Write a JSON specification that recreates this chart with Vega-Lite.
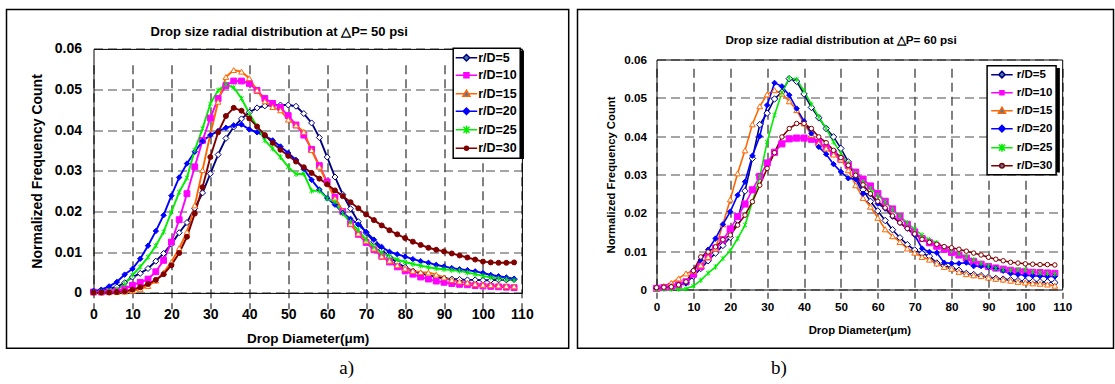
{
  "$schema": "https://vega.github.io/schema/vega-lite/v6.json",
  "background": "white",
  "padding": {"left": 5.5, "top": 8.5, "right": 0, "bottom": 0},
  "spacing": 7,
  "config": {
    "font": "Liberation Sans",
    "view": {"stroke": "black", "strokeWidth": 1.5},
    "axis": {
      "labelFont": "Liberation Sans", "labelFontWeight": "bold", "labelColor": "black",
      "titleFont": "Liberation Sans", "titleFontWeight": "bold", "titleColor": "black",
      "domain": true, "domainColor": "black", "domainWidth": 1,
      "ticks": false, "tickSize": 0,
      "gridDash": [9, 5], "gridWidth": 1.1, "gridOpacity": 1,
      "labelFlush": false, "labelOverlap": false
    },
    "legend": {"strokeWidth": 1.5},
    "title": {"font": "Liberation Sans", "fontWeight": "bold", "color": "black"}
  },
  "datasets": {
    "p50": [
      {"series":"r/D=5","d":0,"freq":0.0003},{"series":"r/D=5","d":2,"freq":0.0005},{"series":"r/D=5","d":4,"freq":0.001},{"series":"r/D=5","d":6,"freq":0.0015},{"series":"r/D=5","d":8,"freq":0.0025},{"series":"r/D=5","d":10,"freq":0.0039},{"series":"r/D=5","d":12,"freq":0.0048},{"series":"r/D=5","d":14,"freq":0.006},{"series":"r/D=5","d":16,"freq":0.0078},{"series":"r/D=5","d":18,"freq":0.0097},{"series":"r/D=5","d":20,"freq":0.012},{"series":"r/D=5","d":22,"freq":0.0148},{"series":"r/D=5","d":24,"freq":0.0173},{"series":"r/D=5","d":26,"freq":0.0208},{"series":"r/D=5","d":28,"freq":0.0246},{"series":"r/D=5","d":30,"freq":0.0293},{"series":"r/D=5","d":32,"freq":0.034},{"series":"r/D=5","d":34,"freq":0.038},{"series":"r/D=5","d":36,"freq":0.0408},{"series":"r/D=5","d":38,"freq":0.0428},{"series":"r/D=5","d":40,"freq":0.0444},{"series":"r/D=5","d":42,"freq":0.0455},{"series":"r/D=5","d":44,"freq":0.046},{"series":"r/D=5","d":46,"freq":0.0462},{"series":"r/D=5","d":48,"freq":0.0462},{"series":"r/D=5","d":50,"freq":0.0462},{"series":"r/D=5","d":52,"freq":0.0459},{"series":"r/D=5","d":54,"freq":0.0441},{"series":"r/D=5","d":56,"freq":0.0418},{"series":"r/D=5","d":58,"freq":0.0382},{"series":"r/D=5","d":60,"freq":0.0334},{"series":"r/D=5","d":62,"freq":0.0285},{"series":"r/D=5","d":64,"freq":0.0242},{"series":"r/D=5","d":66,"freq":0.0207},{"series":"r/D=5","d":68,"freq":0.0175},{"series":"r/D=5","d":70,"freq":0.0148},{"series":"r/D=5","d":72,"freq":0.0126},{"series":"r/D=5","d":74,"freq":0.0106},{"series":"r/D=5","d":76,"freq":0.0088},{"series":"r/D=5","d":78,"freq":0.0074},{"series":"r/D=5","d":80,"freq":0.0063},{"series":"r/D=5","d":82,"freq":0.0054},{"series":"r/D=5","d":84,"freq":0.0048},{"series":"r/D=5","d":86,"freq":0.0043},{"series":"r/D=5","d":88,"freq":0.0039},{"series":"r/D=5","d":90,"freq":0.0036},{"series":"r/D=5","d":92,"freq":0.0034},{"series":"r/D=5","d":94,"freq":0.0033},{"series":"r/D=5","d":96,"freq":0.0032},{"series":"r/D=5","d":98,"freq":0.0032},{"series":"r/D=5","d":100,"freq":0.0031},{"series":"r/D=5","d":102,"freq":0.0031},{"series":"r/D=5","d":104,"freq":0.0032},{"series":"r/D=5","d":106,"freq":0.0032},{"series":"r/D=5","d":108,"freq":0.0033},
      {"series":"r/D=10","d":0,"freq":0.0002},{"series":"r/D=10","d":2,"freq":0.0002},{"series":"r/D=10","d":4,"freq":0.0003},{"series":"r/D=10","d":6,"freq":0.0005},{"series":"r/D=10","d":8,"freq":0.001},{"series":"r/D=10","d":10,"freq":0.0019},{"series":"r/D=10","d":12,"freq":0.0026},{"series":"r/D=10","d":14,"freq":0.0034},{"series":"r/D=10","d":16,"freq":0.0052},{"series":"r/D=10","d":18,"freq":0.008},{"series":"r/D=10","d":20,"freq":0.0125},{"series":"r/D=10","d":22,"freq":0.018},{"series":"r/D=10","d":24,"freq":0.0244},{"series":"r/D=10","d":26,"freq":0.031},{"series":"r/D=10","d":28,"freq":0.0375},{"series":"r/D=10","d":30,"freq":0.043},{"series":"r/D=10","d":32,"freq":0.0478},{"series":"r/D=10","d":34,"freq":0.051},{"series":"r/D=10","d":36,"freq":0.0521},{"series":"r/D=10","d":38,"freq":0.0521},{"series":"r/D=10","d":40,"freq":0.0515},{"series":"r/D=10","d":42,"freq":0.0498},{"series":"r/D=10","d":44,"freq":0.0478},{"series":"r/D=10","d":46,"freq":0.0466},{"series":"r/D=10","d":48,"freq":0.0456},{"series":"r/D=10","d":50,"freq":0.0436},{"series":"r/D=10","d":52,"freq":0.0413},{"series":"r/D=10","d":54,"freq":0.0388},{"series":"r/D=10","d":56,"freq":0.0353},{"series":"r/D=10","d":58,"freq":0.0313},{"series":"r/D=10","d":60,"freq":0.0273},{"series":"r/D=10","d":62,"freq":0.0235},{"series":"r/D=10","d":64,"freq":0.02},{"series":"r/D=10","d":66,"freq":0.017},{"series":"r/D=10","d":68,"freq":0.0144},{"series":"r/D=10","d":70,"freq":0.0124},{"series":"r/D=10","d":72,"freq":0.0106},{"series":"r/D=10","d":74,"freq":0.009},{"series":"r/D=10","d":76,"freq":0.0076},{"series":"r/D=10","d":78,"freq":0.0064},{"series":"r/D=10","d":80,"freq":0.0054},{"series":"r/D=10","d":82,"freq":0.0046},{"series":"r/D=10","d":84,"freq":0.0039},{"series":"r/D=10","d":86,"freq":0.0034},{"series":"r/D=10","d":88,"freq":0.0029},{"series":"r/D=10","d":90,"freq":0.0026},{"series":"r/D=10","d":92,"freq":0.0023},{"series":"r/D=10","d":94,"freq":0.0021},{"series":"r/D=10","d":96,"freq":0.002},{"series":"r/D=10","d":98,"freq":0.0018},{"series":"r/D=10","d":100,"freq":0.0017},{"series":"r/D=10","d":102,"freq":0.0016},{"series":"r/D=10","d":104,"freq":0.0015},{"series":"r/D=10","d":106,"freq":0.0014},{"series":"r/D=10","d":108,"freq":0.0013},
      {"series":"r/D=15","d":0,"freq":0.0002},{"series":"r/D=15","d":2,"freq":0.0002},{"series":"r/D=15","d":4,"freq":0.0002},{"series":"r/D=15","d":6,"freq":0.0002},{"series":"r/D=15","d":8,"freq":0.0003},{"series":"r/D=15","d":10,"freq":0.0005},{"series":"r/D=15","d":12,"freq":0.0009},{"series":"r/D=15","d":14,"freq":0.0017},{"series":"r/D=15","d":16,"freq":0.003},{"series":"r/D=15","d":18,"freq":0.005},{"series":"r/D=15","d":20,"freq":0.0076},{"series":"r/D=15","d":22,"freq":0.011},{"series":"r/D=15","d":24,"freq":0.015},{"series":"r/D=15","d":26,"freq":0.0215},{"series":"r/D=15","d":28,"freq":0.0302},{"series":"r/D=15","d":30,"freq":0.039},{"series":"r/D=15","d":32,"freq":0.047},{"series":"r/D=15","d":34,"freq":0.0531},{"series":"r/D=15","d":36,"freq":0.0548},{"series":"r/D=15","d":38,"freq":0.0544},{"series":"r/D=15","d":40,"freq":0.0528},{"series":"r/D=15","d":42,"freq":0.0498},{"series":"r/D=15","d":44,"freq":0.0471},{"series":"r/D=15","d":46,"freq":0.0457},{"series":"r/D=15","d":48,"freq":0.0449},{"series":"r/D=15","d":50,"freq":0.0426},{"series":"r/D=15","d":52,"freq":0.0412},{"series":"r/D=15","d":54,"freq":0.0396},{"series":"r/D=15","d":56,"freq":0.0351},{"series":"r/D=15","d":58,"freq":0.031},{"series":"r/D=15","d":60,"freq":0.027},{"series":"r/D=15","d":62,"freq":0.0232},{"series":"r/D=15","d":64,"freq":0.0202},{"series":"r/D=15","d":66,"freq":0.017},{"series":"r/D=15","d":68,"freq":0.0146},{"series":"r/D=15","d":70,"freq":0.0128},{"series":"r/D=15","d":72,"freq":0.0109},{"series":"r/D=15","d":74,"freq":0.009},{"series":"r/D=15","d":76,"freq":0.0079},{"series":"r/D=15","d":78,"freq":0.0068},{"series":"r/D=15","d":80,"freq":0.006},{"series":"r/D=15","d":82,"freq":0.0054},{"series":"r/D=15","d":84,"freq":0.0051},{"series":"r/D=15","d":86,"freq":0.005},{"series":"r/D=15","d":88,"freq":0.0045},{"series":"r/D=15","d":90,"freq":0.0038},{"series":"r/D=15","d":92,"freq":0.0032},{"series":"r/D=15","d":94,"freq":0.0028},{"series":"r/D=15","d":96,"freq":0.0025},{"series":"r/D=15","d":98,"freq":0.0022},{"series":"r/D=15","d":100,"freq":0.002},{"series":"r/D=15","d":102,"freq":0.0019},{"series":"r/D=15","d":104,"freq":0.0018},{"series":"r/D=15","d":106,"freq":0.0017},{"series":"r/D=15","d":108,"freq":0.0016},
      {"series":"r/D=20","d":0,"freq":0.0005},{"series":"r/D=20","d":2,"freq":0.0008},{"series":"r/D=20","d":4,"freq":0.0016},{"series":"r/D=20","d":6,"freq":0.0027},{"series":"r/D=20","d":8,"freq":0.0045},{"series":"r/D=20","d":10,"freq":0.0059},{"series":"r/D=20","d":12,"freq":0.0084},{"series":"r/D=20","d":14,"freq":0.0116},{"series":"r/D=20","d":16,"freq":0.0152},{"series":"r/D=20","d":18,"freq":0.0191},{"series":"r/D=20","d":20,"freq":0.0239},{"series":"r/D=20","d":22,"freq":0.0284},{"series":"r/D=20","d":24,"freq":0.0318},{"series":"r/D=20","d":26,"freq":0.0347},{"series":"r/D=20","d":28,"freq":0.0373},{"series":"r/D=20","d":30,"freq":0.0388},{"series":"r/D=20","d":32,"freq":0.0398},{"series":"r/D=20","d":34,"freq":0.0406},{"series":"r/D=20","d":36,"freq":0.0412},{"series":"r/D=20","d":38,"freq":0.0414},{"series":"r/D=20","d":40,"freq":0.0402},{"series":"r/D=20","d":42,"freq":0.0395},{"series":"r/D=20","d":44,"freq":0.0386},{"series":"r/D=20","d":46,"freq":0.0375},{"series":"r/D=20","d":48,"freq":0.036},{"series":"r/D=20","d":50,"freq":0.0344},{"series":"r/D=20","d":52,"freq":0.0327},{"series":"r/D=20","d":54,"freq":0.0304},{"series":"r/D=20","d":56,"freq":0.0278},{"series":"r/D=20","d":58,"freq":0.0254},{"series":"r/D=20","d":60,"freq":0.0233},{"series":"r/D=20","d":62,"freq":0.0217},{"series":"r/D=20","d":64,"freq":0.0197},{"series":"r/D=20","d":66,"freq":0.0182},{"series":"r/D=20","d":68,"freq":0.0168},{"series":"r/D=20","d":70,"freq":0.015},{"series":"r/D=20","d":72,"freq":0.0131},{"series":"r/D=20","d":74,"freq":0.0113},{"series":"r/D=20","d":76,"freq":0.0101},{"series":"r/D=20","d":78,"freq":0.0095},{"series":"r/D=20","d":80,"freq":0.0089},{"series":"r/D=20","d":82,"freq":0.0083},{"series":"r/D=20","d":84,"freq":0.0078},{"series":"r/D=20","d":86,"freq":0.0074},{"series":"r/D=20","d":88,"freq":0.0069},{"series":"r/D=20","d":90,"freq":0.0065},{"series":"r/D=20","d":92,"freq":0.0061},{"series":"r/D=20","d":94,"freq":0.0058},{"series":"r/D=20","d":96,"freq":0.0056},{"series":"r/D=20","d":98,"freq":0.0053},{"series":"r/D=20","d":100,"freq":0.0049},{"series":"r/D=20","d":102,"freq":0.0044},{"series":"r/D=20","d":104,"freq":0.0041},{"series":"r/D=20","d":106,"freq":0.0038},{"series":"r/D=20","d":108,"freq":0.0035},
      {"series":"r/D=25","d":0,"freq":0.0002},{"series":"r/D=25","d":2,"freq":0.0003},{"series":"r/D=25","d":4,"freq":0.0005},{"series":"r/D=25","d":6,"freq":0.0009},{"series":"r/D=25","d":8,"freq":0.0022},{"series":"r/D=25","d":10,"freq":0.0044},{"series":"r/D=25","d":12,"freq":0.0064},{"series":"r/D=25","d":14,"freq":0.0088},{"series":"r/D=25","d":16,"freq":0.0116},{"series":"r/D=25","d":18,"freq":0.015},{"series":"r/D=25","d":20,"freq":0.0199},{"series":"r/D=25","d":22,"freq":0.0248},{"series":"r/D=25","d":24,"freq":0.0283},{"series":"r/D=25","d":26,"freq":0.0351},{"series":"r/D=25","d":28,"freq":0.0404},{"series":"r/D=25","d":30,"freq":0.0465},{"series":"r/D=25","d":32,"freq":0.0498},{"series":"r/D=25","d":34,"freq":0.0513},{"series":"r/D=25","d":36,"freq":0.0505},{"series":"r/D=25","d":38,"freq":0.0478},{"series":"r/D=25","d":40,"freq":0.0441},{"series":"r/D=25","d":42,"freq":0.041},{"series":"r/D=25","d":44,"freq":0.0375},{"series":"r/D=25","d":46,"freq":0.0355},{"series":"r/D=25","d":48,"freq":0.0334},{"series":"r/D=25","d":50,"freq":0.031},{"series":"r/D=25","d":52,"freq":0.0292},{"series":"r/D=25","d":54,"freq":0.0293},{"series":"r/D=25","d":56,"freq":0.0251},{"series":"r/D=25","d":58,"freq":0.0251},{"series":"r/D=25","d":60,"freq":0.0232},{"series":"r/D=25","d":62,"freq":0.0224},{"series":"r/D=25","d":64,"freq":0.0195},{"series":"r/D=25","d":66,"freq":0.0175},{"series":"r/D=25","d":68,"freq":0.0154},{"series":"r/D=25","d":70,"freq":0.0131},{"series":"r/D=25","d":72,"freq":0.0113},{"series":"r/D=25","d":74,"freq":0.0099},{"series":"r/D=25","d":76,"freq":0.009},{"series":"r/D=25","d":78,"freq":0.0082},{"series":"r/D=25","d":80,"freq":0.0076},{"series":"r/D=25","d":82,"freq":0.0071},{"series":"r/D=25","d":84,"freq":0.0067},{"series":"r/D=25","d":86,"freq":0.0063},{"series":"r/D=25","d":88,"freq":0.006},{"series":"r/D=25","d":90,"freq":0.0058},{"series":"r/D=25","d":92,"freq":0.0056},{"series":"r/D=25","d":94,"freq":0.0054},{"series":"r/D=25","d":96,"freq":0.005},{"series":"r/D=25","d":98,"freq":0.0046},{"series":"r/D=25","d":100,"freq":0.0042},{"series":"r/D=25","d":102,"freq":0.0038},{"series":"r/D=25","d":104,"freq":0.0035},{"series":"r/D=25","d":106,"freq":0.0033},{"series":"r/D=25","d":108,"freq":0.0031},
      {"series":"r/D=30","d":0,"freq":0.0001},{"series":"r/D=30","d":2,"freq":0.0001},{"series":"r/D=30","d":4,"freq":0.0001},{"series":"r/D=30","d":6,"freq":0.0002},{"series":"r/D=30","d":8,"freq":0.0004},{"series":"r/D=30","d":10,"freq":0.0008},{"series":"r/D=30","d":12,"freq":0.0014},{"series":"r/D=30","d":14,"freq":0.0022},{"series":"r/D=30","d":16,"freq":0.0032},{"series":"r/D=30","d":18,"freq":0.0046},{"series":"r/D=30","d":20,"freq":0.0068},{"series":"r/D=30","d":22,"freq":0.0098},{"series":"r/D=30","d":24,"freq":0.0138},{"series":"r/D=30","d":26,"freq":0.0195},{"series":"r/D=30","d":28,"freq":0.026},{"series":"r/D=30","d":30,"freq":0.0334},{"series":"r/D=30","d":32,"freq":0.0395},{"series":"r/D=30","d":34,"freq":0.0435},{"series":"r/D=30","d":36,"freq":0.0455},{"series":"r/D=30","d":38,"freq":0.0448},{"series":"r/D=30","d":40,"freq":0.0429},{"series":"r/D=30","d":42,"freq":0.0409},{"series":"r/D=30","d":44,"freq":0.0388},{"series":"r/D=30","d":46,"freq":0.0369},{"series":"r/D=30","d":48,"freq":0.0352},{"series":"r/D=30","d":50,"freq":0.0337},{"series":"r/D=30","d":52,"freq":0.0323},{"series":"r/D=30","d":54,"freq":0.0309},{"series":"r/D=30","d":56,"freq":0.0295},{"series":"r/D=30","d":58,"freq":0.0281},{"series":"r/D=30","d":60,"freq":0.0267},{"series":"r/D=30","d":62,"freq":0.0252},{"series":"r/D=30","d":64,"freq":0.0238},{"series":"r/D=30","d":66,"freq":0.0223},{"series":"r/D=30","d":68,"freq":0.0208},{"series":"r/D=30","d":70,"freq":0.0193},{"series":"r/D=30","d":72,"freq":0.0179},{"series":"r/D=30","d":74,"freq":0.0166},{"series":"r/D=30","d":76,"freq":0.0154},{"series":"r/D=30","d":78,"freq":0.0144},{"series":"r/D=30","d":80,"freq":0.0135},{"series":"r/D=30","d":82,"freq":0.0126},{"series":"r/D=30","d":84,"freq":0.0118},{"series":"r/D=30","d":86,"freq":0.0111},{"series":"r/D=30","d":88,"freq":0.0106},{"series":"r/D=30","d":90,"freq":0.0102},{"series":"r/D=30","d":92,"freq":0.0097},{"series":"r/D=30","d":94,"freq":0.0092},{"series":"r/D=30","d":96,"freq":0.0087},{"series":"r/D=30","d":98,"freq":0.0082},{"series":"r/D=30","d":100,"freq":0.0077},{"series":"r/D=30","d":102,"freq":0.0075},{"series":"r/D=30","d":104,"freq":0.0074},{"series":"r/D=30","d":106,"freq":0.0074},{"series":"r/D=30","d":108,"freq":0.0075}
    ],
    "p60": [
      {"series":"r/D=5","d":0,"freq":0.0003},{"series":"r/D=5","d":2,"freq":0.0005},{"series":"r/D=5","d":4,"freq":0.0008},{"series":"r/D=5","d":6,"freq":0.0012},{"series":"r/D=5","d":8,"freq":0.0018},{"series":"r/D=5","d":10,"freq":0.0035},{"series":"r/D=5","d":12,"freq":0.0055},{"series":"r/D=5","d":14,"freq":0.0075},{"series":"r/D=5","d":16,"freq":0.0095},{"series":"r/D=5","d":18,"freq":0.0115},{"series":"r/D=5","d":20,"freq":0.0136},{"series":"r/D=5","d":22,"freq":0.0181},{"series":"r/D=5","d":24,"freq":0.0257},{"series":"r/D=5","d":26,"freq":0.0342},{"series":"r/D=5","d":28,"freq":0.043},{"series":"r/D=5","d":30,"freq":0.046},{"series":"r/D=5","d":32,"freq":0.0497},{"series":"r/D=5","d":34,"freq":0.0515},{"series":"r/D=5","d":36,"freq":0.055},{"series":"r/D=5","d":38,"freq":0.0543},{"series":"r/D=5","d":40,"freq":0.051},{"series":"r/D=5","d":42,"freq":0.0475},{"series":"r/D=5","d":44,"freq":0.0448},{"series":"r/D=5","d":46,"freq":0.042},{"series":"r/D=5","d":48,"freq":0.0398},{"series":"r/D=5","d":50,"freq":0.0368},{"series":"r/D=5","d":52,"freq":0.0333},{"series":"r/D=5","d":54,"freq":0.0295},{"series":"r/D=5","d":56,"freq":0.026},{"series":"r/D=5","d":58,"freq":0.023},{"series":"r/D=5","d":60,"freq":0.0205},{"series":"r/D=5","d":62,"freq":0.018},{"series":"r/D=5","d":64,"freq":0.0156},{"series":"r/D=5","d":66,"freq":0.0135},{"series":"r/D=5","d":68,"freq":0.0117},{"series":"r/D=5","d":70,"freq":0.0103},{"series":"r/D=5","d":72,"freq":0.0094},{"series":"r/D=5","d":74,"freq":0.0087},{"series":"r/D=5","d":76,"freq":0.0069},{"series":"r/D=5","d":78,"freq":0.0062},{"series":"r/D=5","d":80,"freq":0.0056},{"series":"r/D=5","d":82,"freq":0.005},{"series":"r/D=5","d":84,"freq":0.0042},{"series":"r/D=5","d":86,"freq":0.0039},{"series":"r/D=5","d":88,"freq":0.0036},{"series":"r/D=5","d":90,"freq":0.0032},{"series":"r/D=5","d":92,"freq":0.0029},{"series":"r/D=5","d":94,"freq":0.0027},{"series":"r/D=5","d":96,"freq":0.0025},{"series":"r/D=5","d":98,"freq":0.0023},{"series":"r/D=5","d":100,"freq":0.0022},{"series":"r/D=5","d":102,"freq":0.0021},{"series":"r/D=5","d":104,"freq":0.002},{"series":"r/D=5","d":106,"freq":0.002},{"series":"r/D=5","d":108,"freq":0.0018},
      {"series":"r/D=10","d":0,"freq":0.0003},{"series":"r/D=10","d":2,"freq":0.0005},{"series":"r/D=10","d":4,"freq":0.0008},{"series":"r/D=10","d":6,"freq":0.0012},{"series":"r/D=10","d":8,"freq":0.002},{"series":"r/D=10","d":10,"freq":0.004},{"series":"r/D=10","d":12,"freq":0.006},{"series":"r/D=10","d":14,"freq":0.0085},{"series":"r/D=10","d":16,"freq":0.0108},{"series":"r/D=10","d":18,"freq":0.013},{"series":"r/D=10","d":20,"freq":0.0158},{"series":"r/D=10","d":22,"freq":0.019},{"series":"r/D=10","d":24,"freq":0.0223},{"series":"r/D=10","d":26,"freq":0.026},{"series":"r/D=10","d":28,"freq":0.0295},{"series":"r/D=10","d":30,"freq":0.033},{"series":"r/D=10","d":32,"freq":0.0358},{"series":"r/D=10","d":34,"freq":0.038},{"series":"r/D=10","d":36,"freq":0.0393},{"series":"r/D=10","d":38,"freq":0.0395},{"series":"r/D=10","d":40,"freq":0.0395},{"series":"r/D=10","d":42,"freq":0.0392},{"series":"r/D=10","d":44,"freq":0.0383},{"series":"r/D=10","d":46,"freq":0.037},{"series":"r/D=10","d":48,"freq":0.0356},{"series":"r/D=10","d":50,"freq":0.034},{"series":"r/D=10","d":52,"freq":0.0324},{"series":"r/D=10","d":54,"freq":0.0306},{"series":"r/D=10","d":56,"freq":0.0288},{"series":"r/D=10","d":58,"freq":0.027},{"series":"r/D=10","d":60,"freq":0.025},{"series":"r/D=10","d":62,"freq":0.023},{"series":"r/D=10","d":64,"freq":0.021},{"series":"r/D=10","d":66,"freq":0.019},{"series":"r/D=10","d":68,"freq":0.017},{"series":"r/D=10","d":70,"freq":0.015},{"series":"r/D=10","d":72,"freq":0.0133},{"series":"r/D=10","d":74,"freq":0.0122},{"series":"r/D=10","d":76,"freq":0.0113},{"series":"r/D=10","d":78,"freq":0.0105},{"series":"r/D=10","d":80,"freq":0.0097},{"series":"r/D=10","d":82,"freq":0.009},{"series":"r/D=10","d":84,"freq":0.0082},{"series":"r/D=10","d":86,"freq":0.0073},{"series":"r/D=10","d":88,"freq":0.0066},{"series":"r/D=10","d":90,"freq":0.006},{"series":"r/D=10","d":92,"freq":0.0056},{"series":"r/D=10","d":94,"freq":0.0053},{"series":"r/D=10","d":96,"freq":0.005},{"series":"r/D=10","d":98,"freq":0.0048},{"series":"r/D=10","d":100,"freq":0.0046},{"series":"r/D=10","d":102,"freq":0.0045},{"series":"r/D=10","d":104,"freq":0.0044},{"series":"r/D=10","d":106,"freq":0.0043},{"series":"r/D=10","d":108,"freq":0.0042},
      {"series":"r/D=15","d":0,"freq":0.0004},{"series":"r/D=15","d":2,"freq":0.0009},{"series":"r/D=15","d":4,"freq":0.0017},{"series":"r/D=15","d":6,"freq":0.0029},{"series":"r/D=15","d":8,"freq":0.0042},{"series":"r/D=15","d":10,"freq":0.0049},{"series":"r/D=15","d":12,"freq":0.0063},{"series":"r/D=15","d":14,"freq":0.0085},{"series":"r/D=15","d":16,"freq":0.0107},{"series":"r/D=15","d":18,"freq":0.017},{"series":"r/D=15","d":20,"freq":0.0235},{"series":"r/D=15","d":22,"freq":0.0303},{"series":"r/D=15","d":24,"freq":0.0363},{"series":"r/D=15","d":26,"freq":0.0431},{"series":"r/D=15","d":28,"freq":0.0478},{"series":"r/D=15","d":30,"freq":0.0509},{"series":"r/D=15","d":32,"freq":0.052},{"series":"r/D=15","d":34,"freq":0.0511},{"series":"r/D=15","d":36,"freq":0.0491},{"series":"r/D=15","d":38,"freq":0.0468},{"series":"r/D=15","d":40,"freq":0.0433},{"series":"r/D=15","d":42,"freq":0.0403},{"series":"r/D=15","d":44,"freq":0.0381},{"series":"r/D=15","d":46,"freq":0.0368},{"series":"r/D=15","d":48,"freq":0.0352},{"series":"r/D=15","d":50,"freq":0.0339},{"series":"r/D=15","d":52,"freq":0.0311},{"series":"r/D=15","d":54,"freq":0.0272},{"series":"r/D=15","d":56,"freq":0.0239},{"series":"r/D=15","d":58,"freq":0.0216},{"series":"r/D=15","d":60,"freq":0.0187},{"series":"r/D=15","d":62,"freq":0.0157},{"series":"r/D=15","d":64,"freq":0.0139},{"series":"r/D=15","d":66,"freq":0.0124},{"series":"r/D=15","d":68,"freq":0.0107},{"series":"r/D=15","d":70,"freq":0.0096},{"series":"r/D=15","d":72,"freq":0.0085},{"series":"r/D=15","d":74,"freq":0.0078},{"series":"r/D=15","d":76,"freq":0.0068},{"series":"r/D=15","d":78,"freq":0.0059},{"series":"r/D=15","d":80,"freq":0.0054},{"series":"r/D=15","d":82,"freq":0.0046},{"series":"r/D=15","d":84,"freq":0.004},{"series":"r/D=15","d":86,"freq":0.0037},{"series":"r/D=15","d":88,"freq":0.0035},{"series":"r/D=15","d":90,"freq":0.0031},{"series":"r/D=15","d":92,"freq":0.0028},{"series":"r/D=15","d":94,"freq":0.0026},{"series":"r/D=15","d":96,"freq":0.0023},{"series":"r/D=15","d":98,"freq":0.002},{"series":"r/D=15","d":100,"freq":0.0018},{"series":"r/D=15","d":102,"freq":0.0016},{"series":"r/D=15","d":104,"freq":0.0015},{"series":"r/D=15","d":106,"freq":0.0013},{"series":"r/D=15","d":108,"freq":0.001},
      {"series":"r/D=20","d":0,"freq":0.0003},{"series":"r/D=20","d":2,"freq":0.0005},{"series":"r/D=20","d":4,"freq":0.0008},{"series":"r/D=20","d":6,"freq":0.0012},{"series":"r/D=20","d":8,"freq":0.0017},{"series":"r/D=20","d":10,"freq":0.0049},{"series":"r/D=20","d":12,"freq":0.0077},{"series":"r/D=20","d":14,"freq":0.0104},{"series":"r/D=20","d":16,"freq":0.0133},{"series":"r/D=20","d":18,"freq":0.017},{"series":"r/D=20","d":20,"freq":0.0203},{"series":"r/D=20","d":22,"freq":0.0246},{"series":"r/D=20","d":24,"freq":0.0281},{"series":"r/D=20","d":26,"freq":0.0349},{"series":"r/D=20","d":28,"freq":0.04},{"series":"r/D=20","d":30,"freq":0.0481},{"series":"r/D=20","d":32,"freq":0.0539},{"series":"r/D=20","d":34,"freq":0.053},{"series":"r/D=20","d":36,"freq":0.0507},{"series":"r/D=20","d":38,"freq":0.0472},{"series":"r/D=20","d":40,"freq":0.0439},{"series":"r/D=20","d":42,"freq":0.0407},{"series":"r/D=20","d":44,"freq":0.0372},{"series":"r/D=20","d":46,"freq":0.0353},{"series":"r/D=20","d":48,"freq":0.0327},{"series":"r/D=20","d":50,"freq":0.0307},{"series":"r/D=20","d":52,"freq":0.029},{"series":"r/D=20","d":54,"freq":0.0288},{"series":"r/D=20","d":56,"freq":0.025},{"series":"r/D=20","d":58,"freq":0.0249},{"series":"r/D=20","d":60,"freq":0.0224},{"series":"r/D=20","d":62,"freq":0.0211},{"series":"r/D=20","d":64,"freq":0.019},{"series":"r/D=20","d":66,"freq":0.0174},{"series":"r/D=20","d":68,"freq":0.0159},{"series":"r/D=20","d":70,"freq":0.0142},{"series":"r/D=20","d":72,"freq":0.0107},{"series":"r/D=20","d":74,"freq":0.0098},{"series":"r/D=20","d":76,"freq":0.0096},{"series":"r/D=20","d":78,"freq":0.007},{"series":"r/D=20","d":80,"freq":0.0068},{"series":"r/D=20","d":82,"freq":0.0068},{"series":"r/D=20","d":84,"freq":0.007},{"series":"r/D=20","d":86,"freq":0.0061},{"series":"r/D=20","d":88,"freq":0.0061},{"series":"r/D=20","d":90,"freq":0.0059},{"series":"r/D=20","d":92,"freq":0.0055},{"series":"r/D=20","d":94,"freq":0.0049},{"series":"r/D=20","d":96,"freq":0.0042},{"series":"r/D=20","d":98,"freq":0.0039},{"series":"r/D=20","d":100,"freq":0.0037},{"series":"r/D=20","d":102,"freq":0.0036},{"series":"r/D=20","d":104,"freq":0.0035},{"series":"r/D=20","d":106,"freq":0.0034},{"series":"r/D=20","d":108,"freq":0.0034},
      {"series":"r/D=25","d":0,"freq":0.0001},{"series":"r/D=25","d":2,"freq":0.0001},{"series":"r/D=25","d":4,"freq":0.0001},{"series":"r/D=25","d":6,"freq":0.0001},{"series":"r/D=25","d":8,"freq":0.0002},{"series":"r/D=25","d":10,"freq":0.0009},{"series":"r/D=25","d":12,"freq":0.0024},{"series":"r/D=25","d":14,"freq":0.0043},{"series":"r/D=25","d":16,"freq":0.0059},{"series":"r/D=25","d":18,"freq":0.0081},{"series":"r/D=25","d":20,"freq":0.0101},{"series":"r/D=25","d":22,"freq":0.0133},{"series":"r/D=25","d":24,"freq":0.0168},{"series":"r/D=25","d":26,"freq":0.0229},{"series":"r/D=25","d":28,"freq":0.0294},{"series":"r/D=25","d":30,"freq":0.0385},{"series":"r/D=25","d":32,"freq":0.0455},{"series":"r/D=25","d":34,"freq":0.0513},{"series":"r/D=25","d":36,"freq":0.0552},{"series":"r/D=25","d":38,"freq":0.0548},{"series":"r/D=25","d":40,"freq":0.0518},{"series":"r/D=25","d":42,"freq":0.0483},{"series":"r/D=25","d":44,"freq":0.045},{"series":"r/D=25","d":46,"freq":0.042},{"series":"r/D=25","d":48,"freq":0.0385},{"series":"r/D=25","d":50,"freq":0.0355},{"series":"r/D=25","d":52,"freq":0.0329},{"series":"r/D=25","d":54,"freq":0.0303},{"series":"r/D=25","d":56,"freq":0.0281},{"series":"r/D=25","d":58,"freq":0.0263},{"series":"r/D=25","d":60,"freq":0.0246},{"series":"r/D=25","d":62,"freq":0.0229},{"series":"r/D=25","d":64,"freq":0.0209},{"series":"r/D=25","d":66,"freq":0.0191},{"series":"r/D=25","d":68,"freq":0.0174},{"series":"r/D=25","d":70,"freq":0.0157},{"series":"r/D=25","d":72,"freq":0.0142},{"series":"r/D=25","d":74,"freq":0.013},{"series":"r/D=25","d":76,"freq":0.0122},{"series":"r/D=25","d":78,"freq":0.011},{"series":"r/D=25","d":80,"freq":0.0101},{"series":"r/D=25","d":82,"freq":0.0094},{"series":"r/D=25","d":84,"freq":0.0085},{"series":"r/D=25","d":86,"freq":0.0078},{"series":"r/D=25","d":88,"freq":0.0068},{"series":"r/D=25","d":90,"freq":0.0061},{"series":"r/D=25","d":92,"freq":0.0055},{"series":"r/D=25","d":94,"freq":0.0052},{"series":"r/D=25","d":96,"freq":0.005},{"series":"r/D=25","d":98,"freq":0.0052},{"series":"r/D=25","d":100,"freq":0.0052},{"series":"r/D=25","d":102,"freq":0.0046},{"series":"r/D=25","d":104,"freq":0.0043},{"series":"r/D=25","d":106,"freq":0.0042},{"series":"r/D=25","d":108,"freq":0.004},
      {"series":"r/D=30","d":0,"freq":0.0005},{"series":"r/D=30","d":2,"freq":0.0006},{"series":"r/D=30","d":4,"freq":0.0007},{"series":"r/D=30","d":6,"freq":0.0012},{"series":"r/D=30","d":8,"freq":0.002},{"series":"r/D=30","d":10,"freq":0.0049},{"series":"r/D=30","d":12,"freq":0.0085},{"series":"r/D=30","d":14,"freq":0.0098},{"series":"r/D=30","d":16,"freq":0.0111},{"series":"r/D=30","d":18,"freq":0.013},{"series":"r/D=30","d":20,"freq":0.0142},{"series":"r/D=30","d":22,"freq":0.0168},{"series":"r/D=30","d":24,"freq":0.0194},{"series":"r/D=30","d":26,"freq":0.0229},{"series":"r/D=30","d":28,"freq":0.0272},{"series":"r/D=30","d":30,"freq":0.0316},{"series":"r/D=30","d":32,"freq":0.0357},{"series":"r/D=30","d":34,"freq":0.0398},{"series":"r/D=30","d":36,"freq":0.042},{"series":"r/D=30","d":38,"freq":0.0433},{"series":"r/D=30","d":40,"freq":0.0433},{"series":"r/D=30","d":42,"freq":0.042},{"series":"r/D=30","d":44,"freq":0.0398},{"series":"r/D=30","d":46,"freq":0.0383},{"series":"r/D=30","d":48,"freq":0.0363},{"series":"r/D=30","d":50,"freq":0.0344},{"series":"r/D=30","d":52,"freq":0.0324},{"series":"r/D=30","d":54,"freq":0.0298},{"series":"r/D=30","d":56,"freq":0.0273},{"series":"r/D=30","d":58,"freq":0.025},{"series":"r/D=30","d":60,"freq":0.023},{"series":"r/D=30","d":62,"freq":0.0213},{"series":"r/D=30","d":64,"freq":0.0192},{"series":"r/D=30","d":66,"freq":0.0174},{"series":"r/D=30","d":68,"freq":0.0159},{"series":"r/D=30","d":70,"freq":0.0145},{"series":"r/D=30","d":72,"freq":0.0131},{"series":"r/D=30","d":74,"freq":0.0123},{"series":"r/D=30","d":76,"freq":0.0118},{"series":"r/D=30","d":78,"freq":0.0112},{"series":"r/D=30","d":80,"freq":0.0109},{"series":"r/D=30","d":82,"freq":0.0105},{"series":"r/D=30","d":84,"freq":0.01},{"series":"r/D=30","d":86,"freq":0.0095},{"series":"r/D=30","d":88,"freq":0.009},{"series":"r/D=30","d":90,"freq":0.0084},{"series":"r/D=30","d":92,"freq":0.0079},{"series":"r/D=30","d":94,"freq":0.0075},{"series":"r/D=30","d":96,"freq":0.0071},{"series":"r/D=30","d":98,"freq":0.0069},{"series":"r/D=30","d":100,"freq":0.0067},{"series":"r/D=30","d":102,"freq":0.0066},{"series":"r/D=30","d":104,"freq":0.0065},{"series":"r/D=30","d":106,"freq":0.0065},{"series":"r/D=30","d":108,"freq":0.0064}
    ]
  },
  "hconcat": [
    {
      "title": {"text": "a)", "orient": "bottom", "anchor": "middle", "frame": "bounds", "dx": 59, "offset": 18.75, "baseline": "middle", "font": "Liberation Serif", "fontSize": 19, "fontWeight": "normal"},
      "vconcat": [
        {
          "width": 562.2,
          "height": 338.7,
          "title": {"text": "Drop size radial distribution at △P= 50 psi", "fontSize": 13, "frame": "group", "anchor": "middle", "dx": -8.4, "offset": -35.5, "baseline": "middle"},
          "data": {"name": "p50"},
          "layer": [
            {
              "mark": {"type": "line", "strokeWidth": 1.9},
              "encoding": {
                "x": {"field": "d", "type": "quantitative",
                      "scale": {"domain": [0, 110], "range": [87, 515.4], "nice": false, "zero": false},
                      "axis": {"orient": "bottom", "offset": -55.3, "title": "Drop Diameter(μm)", "values": [0,10,20,30,40,50,60,70,80,90,100,110],
                               "grid": true, "gridColor": "#1a1a1a",
                               "labelFontSize": 14, "titleFontSize": 13.5, "labelPadding": 15, "titlePadding": 10}},
                "y": {"field": "freq", "type": "quantitative",
                      "scale": {"domain": [0, 0.06], "range": [283.4, 39.4], "nice": false},
                      "axis": {"orient": "left", "offset": -87, "title": "Normalized Frequency Count", "values": [0,0.01,0.02,0.03,0.04,0.05,0.06],
                               "labelExpr": "datum.value === 0 ? '0' : format(datum.value, '.2f')",
                               "grid": true, "gridColor": "#4d4d4d",
                               "labelFontSize": 14, "titleFontSize": 14, "labelPadding": 12, "titlePadding": 10}},
                "stroke": {"field": "series", "type": "nominal", "legend": null,
                           "scale": {"domain": ["r/D=5","r/D=10","r/D=15","r/D=20","r/D=25","r/D=30"],
                                     "range": ["#000080","#FF00FF","#FF6600","#0000FF","#00EE00","#800000"]}}
              }
            },
            {
              "mark": {"type": "point", "filled": true, "opacity": 1, "strokeWidth": 1},
              "encoding": {
                "x": {"field": "d", "type": "quantitative",
                      "scale": {"domain": [0, 110], "range": [87, 515.4], "nice": false, "zero": false},
                      "axis": {"orient": "top", "offset": -39.4, "title": null, "labels": false, "grid": false}},
                "y": {"field": "freq", "type": "quantitative",
                      "scale": {"domain": [0, 0.06], "range": [283.4, 39.4], "nice": false},
                      "axis": {"orient": "right", "offset": -46.8, "title": null, "labels": false, "grid": false}},
                "stroke": {"field": "series", "type": "nominal", "legend": null,
                           "scale": {"domain": ["r/D=5","r/D=10","r/D=15","r/D=20","r/D=25","r/D=30"],
                                     "range": ["#000080","#FF00FF","#FF6600","#0000FF","#00EE00","#800000"]}},
                "fill": {"field": "series", "type": "nominal", "legend": null,
                         "scale": {"domain": ["r/D=5","r/D=10","r/D=15","r/D=20","r/D=25","r/D=30"],
                                   "range": ["white","#FF00FF","white","#0000FF","#00EE00","#800000"]}},
                "shape": {"field": "series", "type": "nominal", "legend": null,
                          "scale": {"domain": ["r/D=5","r/D=10","r/D=15","r/D=20","r/D=25","r/D=30"],
                                    "range": ["diamond","square","triangle-up","diamond","M-0.8,-0.8L0.8,0.8M-0.8,0.8L0.8,-0.8M0,-1.1V1.1","circle"]}},
                "size": {"field": "series", "type": "nominal", "legend": null,
                         "scale": {"domain": ["r/D=5","r/D=10","r/D=15","r/D=20","r/D=25","r/D=30"],
                                   "range": [36, 25, 42, 36, 42, 16]}}
              }
            },
            {
              "mark": {"type": "point", "filled": true, "opacity": 0, "size": 100, "strokeWidth": 1.5},
              "encoding": {
                "x": {"field": "d", "type": "quantitative", "axis": null,
                      "scale": {"domain": [0, 110], "range": [87, 515.4], "nice": false, "zero": false}},
                "y": {"field": "freq", "type": "quantitative", "axis": null,
                      "scale": {"domain": [0, 0.06], "range": [283.4, 39.4], "nice": false}},
                "stroke": {"field": "series", "type": "nominal",
                           "scale": {"domain": ["r/D=5","r/D=10","r/D=15","r/D=20","r/D=25","r/D=30"],
                                     "range": ["black","black","black","black","black","black"]},
                           "legend": {"orient": "none", "legendX": 449.7, "legendY": 41.7, "title": null,
                                      "padding": 3.25, "rowPadding": 4.5, "symbolSize": 100, "symbolStrokeWidth": 1.5,
                                      "symbolOffset": 3.75, "labelOffset": 44.05, "labelFontSize": 12.5, "labelExpr": "''",
                                      "symbolOpacity": 0, "strokeColor": "black", "fillColor": "black", "symbolFillColor": "black"}}
              }
            },
            {
              "mark": {"type": "point", "filled": true, "opacity": 0, "size": 100, "strokeWidth": 1.5},
              "encoding": {
                "x": {"field": "d", "type": "quantitative", "axis": null,
                      "scale": {"domain": [0, 110], "range": [87, 515.4], "nice": false, "zero": false}},
                "y": {"field": "freq", "type": "quantitative", "axis": null,
                      "scale": {"domain": [0, 0.06], "range": [283.4, 39.4], "nice": false}},
                "stroke": {"field": "series", "type": "nominal",
                           "scale": {"domain": ["r/D=5","r/D=10","r/D=15","r/D=20","r/D=25","r/D=30"],
                                     "range": ["#000080","#FF00FF","#FF6600","#0000FF","#00EE00","#800000"]},
                           "legend": {"orient": "none", "legendX": 446.7, "legendY": 38.7, "title": null,
                                      "padding": 3.25, "rowPadding": 4.5, "symbolSize": 100, "symbolStrokeWidth": 1.5,
                                      "symbolOffset": 3.75, "labelOffset": 5.45, "labelFontSize": 12.5, "labelFontWeight": "bold",
                                      "labelFont": "Liberation Sans", "labelColor": "black", "strokeColor": "black",
                                      "fillColor": "white", "symbolOpacity": 1, "symbolFillColor": "white"}},
                "shape": {"field": "series", "type": "nominal",
                          "scale": {"domain": ["r/D=5","r/D=10","r/D=15","r/D=20","r/D=25","r/D=30"],
                                    "range": ["M-2.15,0H-0.65M0.65,0H2.15M0,-0.65L0.65,0L0,0.65L-0.65,0Z",
                                              "M-2.15,0H2.15M-0.5,-0.5H0.5V0.5H-0.5ZM-0.22,-0.22H0.22V0.22H-0.22Z",
                                              "M-2.15,0H-0.41M0.41,0H2.15M0,-0.7L0.7,0.5H-0.7Z",
                                              "M-2.15,0H2.15M0,-0.65L0.65,0L0,0.65L-0.65,0ZM0,-0.32L0.32,0L0,0.32L-0.32,0Z",
                                              "M-2.15,0H2.15M-0.6,-0.6L0.6,0.6M-0.6,0.6L0.6,-0.6M0,-0.8V0.8",
                                              "M-2.15,0H2.15M-0.4,0A0.4,0.4,0,1,1,0.4,0A0.4,0.4,0,1,1,-0.4,0ZM-0.14,0A0.14,0.14,0,1,1,0.14,0A0.14,0.14,0,1,1,-0.14,0Z"]}}
              }
            }
          ],
          "resolve": {
            "scale": {"stroke": "independent", "fill": "independent", "shape": "independent", "size": "independent"},
            "axis": {"x": "independent", "y": "independent"}
          }
        }
      ]
    },
    {
      "title": {"text": "b)", "orient": "bottom", "anchor": "middle", "frame": "bounds", "dx": -66.7, "offset": 18.75, "baseline": "middle", "font": "Liberation Serif", "fontSize": 19, "fontWeight": "normal"},
      "vconcat": [
        {
          "width": 536,
          "height": 338.7,
          "title": {"text": "Drop size radial distribution at △P= 60 psi", "fontSize": 11.7, "frame": "group", "anchor": "middle", "dx": -4.4, "offset": -42.5, "baseline": "middle"},
          "data": {"name": "p60"},
          "layer": [
            {
              "mark": {"type": "line", "strokeWidth": 1.6},
              "encoding": {
                "x": {"field": "d", "type": "quantitative",
                      "scale": {"domain": [0, 110], "range": [79, 484.7], "nice": false, "zero": false},
                      "axis": {"orient": "bottom", "offset": -58.7, "title": "Drop Diameter(μm)", "values": [0,10,20,30,40,50,60,70,80,90,100,110],
                               "grid": true, "gridColor": "#1a1a1a",
                               "labelFontSize": 11.7, "titleFontSize": 11.3, "labelPadding": 12, "titlePadding": 11.5}},
                "y": {"field": "freq", "type": "quantitative",
                      "scale": {"domain": [0, 0.06], "range": [280, 50], "nice": false},
                      "axis": {"orient": "left", "offset": -79, "title": "Normalized Frequency Count", "values": [0,0.01,0.02,0.03,0.04,0.05,0.06],
                               "labelExpr": "datum.value === 0 ? '0' : format(datum.value, '.2f')",
                               "grid": true, "gridColor": "#4d4d4d",
                               "labelFontSize": 11.7, "titleFontSize": 11.3, "labelPadding": 10, "titlePadding": 7.5}},
                "stroke": {"field": "series", "type": "nominal", "legend": null,
                           "scale": {"domain": ["r/D=5","r/D=10","r/D=15","r/D=20","r/D=25","r/D=30"],
                                     "range": ["#000080","#FF00FF","#FF6600","#0000FF","#00EE00","#800000"]}}
              }
            },
            {
              "mark": {"type": "point", "filled": true, "opacity": 1, "strokeWidth": 1},
              "encoding": {
                "x": {"field": "d", "type": "quantitative",
                      "scale": {"domain": [0, 110], "range": [79, 484.7], "nice": false, "zero": false},
                      "axis": {"orient": "top", "offset": -50, "title": null, "labels": false, "grid": false}},
                "y": {"field": "freq", "type": "quantitative",
                      "scale": {"domain": [0, 0.06], "range": [280, 50], "nice": false},
                      "axis": {"orient": "right", "offset": -51.3, "title": null, "labels": false, "grid": false}},
                "stroke": {"field": "series", "type": "nominal", "legend": null,
                           "scale": {"domain": ["r/D=5","r/D=10","r/D=15","r/D=20","r/D=25","r/D=30"],
                                     "range": ["#000080","#FF00FF","#FF6600","#0000FF","#00EE00","#800000"]}},
                "fill": {"field": "series", "type": "nominal", "legend": null,
                         "scale": {"domain": ["r/D=5","r/D=10","r/D=15","r/D=20","r/D=25","r/D=30"],
                                   "range": ["white","#FF00FF","white","#0000FF","#00EE00","white"]}},
                "shape": {"field": "series", "type": "nominal", "legend": null,
                          "scale": {"domain": ["r/D=5","r/D=10","r/D=15","r/D=20","r/D=25","r/D=30"],
                                    "range": ["diamond","square","triangle-up","diamond","M-0.8,-0.8L0.8,0.8M-0.8,0.8L0.8,-0.8M0,-1.1V1.1","circle"]}},
                "size": {"field": "series", "type": "nominal", "legend": null,
                         "scale": {"domain": ["r/D=5","r/D=10","r/D=15","r/D=20","r/D=25","r/D=30"],
                                   "range": [42, 20, 48, 42, 48, 26]}}
              }
            },
            {
              "mark": {"type": "point", "filled": true, "opacity": 0, "size": 100, "strokeWidth": 1.5},
              "encoding": {
                "x": {"field": "d", "type": "quantitative", "axis": null,
                      "scale": {"domain": [0, 110], "range": [79, 484.7], "nice": false, "zero": false}},
                "y": {"field": "freq", "type": "quantitative", "axis": null,
                      "scale": {"domain": [0, 0.06], "range": [280, 50], "nice": false}},
                "stroke": {"field": "series", "type": "nominal",
                           "scale": {"domain": ["r/D=5","r/D=10","r/D=15","r/D=20","r/D=25","r/D=30"],
                                     "range": ["black","black","black","black","black","black"]},
                           "legend": {"orient": "none", "legendX": 412.6, "legendY": 59.3, "title": null,
                                      "padding": 2.85, "rowPadding": 5, "symbolSize": 100, "symbolStrokeWidth": 1.5,
                                      "symbolOffset": 6, "labelOffset": 44.4, "labelFontSize": 11.5, "labelExpr": "''",
                                      "symbolOpacity": 0, "strokeColor": "black", "fillColor": "black", "symbolFillColor": "black"}}
              }
            },
            {
              "mark": {"type": "point", "filled": true, "opacity": 0, "size": 100, "strokeWidth": 1.5},
              "encoding": {
                "x": {"field": "d", "type": "quantitative", "axis": null,
                      "scale": {"domain": [0, 110], "range": [79, 484.7], "nice": false, "zero": false}},
                "y": {"field": "freq", "type": "quantitative", "axis": null,
                      "scale": {"domain": [0, 0.06], "range": [280, 50], "nice": false}},
                "stroke": {"field": "series", "type": "nominal",
                           "scale": {"domain": ["r/D=5","r/D=10","r/D=15","r/D=20","r/D=25","r/D=30"],
                                     "range": ["#000080","#FF00FF","#FF6600","#0000FF","#00EE00","#800000"]},
                           "legend": {"orient": "none", "legendX": 409.6, "legendY": 56.3, "title": null,
                                      "padding": 2.85, "rowPadding": 5, "symbolSize": 100, "symbolStrokeWidth": 1.5,
                                      "symbolOffset": 6, "labelOffset": 8.9, "labelFontSize": 11.5, "labelFontWeight": "bold",
                                      "labelFont": "Liberation Sans", "labelColor": "black", "strokeColor": "black",
                                      "fillColor": "white", "symbolOpacity": 1, "symbolFillColor": "white"}},
                "shape": {"field": "series", "type": "nominal",
                          "scale": {"domain": ["r/D=5","r/D=10","r/D=15","r/D=20","r/D=25","r/D=30"],
                                    "range": ["M-2.15,0H-0.65M0.65,0H2.15M0,-0.65L0.65,0L0,0.65L-0.65,0Z",
                                              "M-2.15,0H2.15M-0.4,-0.4H0.4V0.4H-0.4ZM-0.15,-0.15H0.15V0.15H-0.15Z",
                                              "M-2.15,0H-0.41M0.41,0H2.15M0,-0.7L0.7,0.5H-0.7Z",
                                              "M-2.15,0H2.15M0,-0.65L0.65,0L0,0.65L-0.65,0ZM0,-0.32L0.32,0L0,0.32L-0.32,0Z",
                                              "M-2.15,0H2.15M-0.6,-0.6L0.6,0.6M-0.6,0.6L0.6,-0.6M0,-0.8V0.8",
                                              "M-2.15,0H-0.45M0.45,0H2.15M-0.45,0A0.45,0.45,0,1,1,0.45,0A0.45,0.45,0,1,1,-0.45,0Z"]}}
              }
            }
          ],
          "resolve": {
            "scale": {"stroke": "independent", "fill": "independent", "shape": "independent", "size": "independent"},
            "axis": {"x": "independent", "y": "independent"}
          }
        }
      ]
    }
  ]
}
